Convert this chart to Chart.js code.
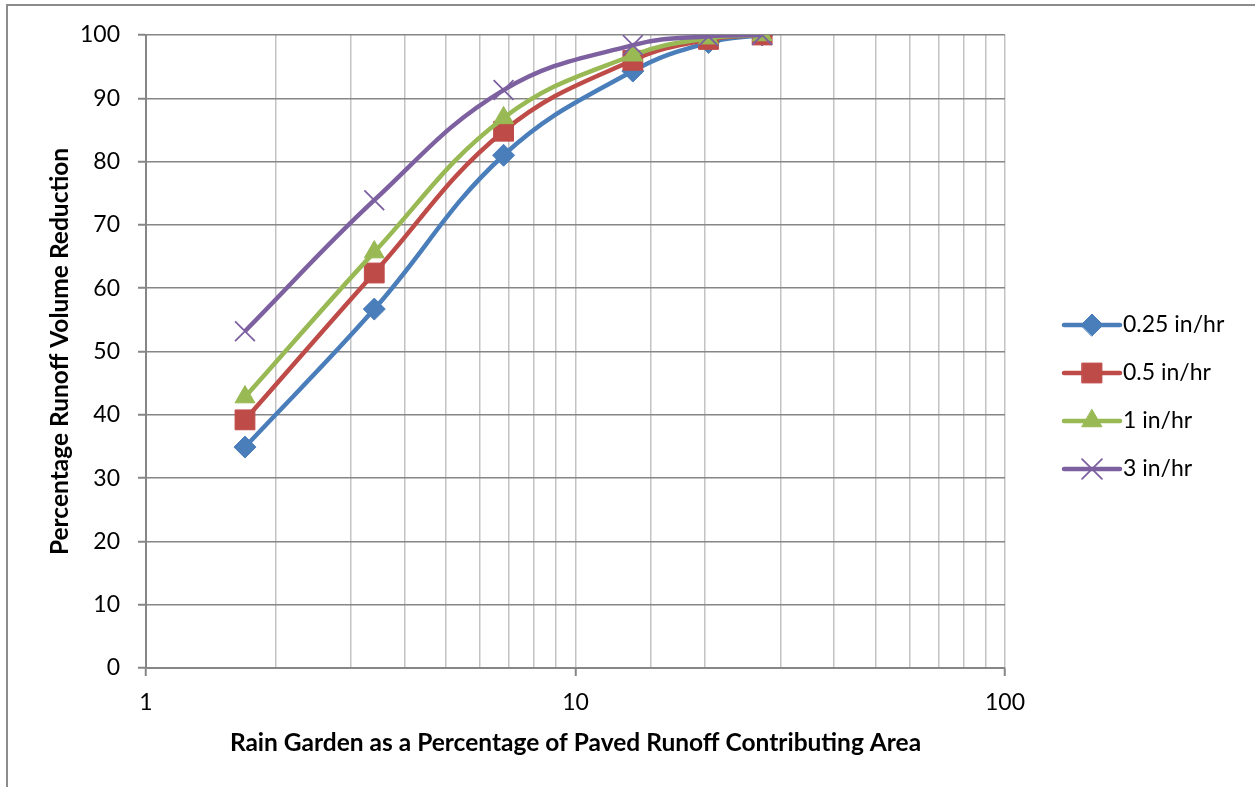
<!DOCTYPE html>
<html>
<head>
<meta charset="utf-8">
<script src="https://cdn.jsdelivr.net/npm/chart.js@4/dist/chart.umd.min.js"></script>
<style>
  html, body { margin: 0; padding: 0; background: #fff; }
  canvas { display: block; }
</style>
</head>
<body>
<canvas id="rainChart" width="1255" height="787"></canvas>
<script>
    // data
    const areaPct = [1.7, 3.4, 6.8, 13.6, 20.4, 27.2];
    const seriesNames = ['0.25 in/hr', '0.5 in/hr', '1 in/hr', '3 in/hr'];
    const red025 = [34.9, 56.7, 81.0, 94.3, 98.8, 100];
    const red05 = [39.2, 62.4, 84.8, 96.0, 99.3, 100];
    const red1 = [42.8, 65.7, 86.9, 96.8, 99.5, 100];
    const red3 = [53.2, 73.9, 91.3, 98.4, 99.8, 100];
    const xTickLabels = [1, 10, 100];

    const FONT = 'Lato, "Open Sans", sans-serif';
    const colors = ['#4a7ebb', '#be4b48', '#98b954', '#7d60a0'];
    const markers = ['rectRot', 'rect', 'triangle', 'crossRot'];
    const markerSize = [11, 14, 11.5, 14];

    function pts(vals) {
        return areaPct.map((x, i) => ({ x: x, y: vals[i] }));
    }

    const allVals = [red025, red05, red1, red3];
    const datasets = allVals.map((v, i) => ({
        label: seriesNames[i],
        data: pts(v),
        borderColor: colors[i],
        backgroundColor: colors[i],
        borderWidth: 4.5,
        pointStyle: markers[i],
        pointRadius: markerSize[i],
        pointBorderWidth: markers[i] === 'crossRot' ? 1.8 : 1,
        pointBorderColor: colors[i],
        pointBackgroundColor: colors[i],
        tension: 0.4,
        order: 3 - i   // purple on top
    }));

    // chart frame, like the excel chart border
    const framePlugin = {
        id: 'frame',
        beforeDraw(chart) {
            const ctx = chart.ctx;
            ctx.save();
            ctx.strokeStyle = '#8c8c8c';
            ctx.lineWidth = 2;
            ctx.beginPath();
            ctx.moveTo(7, chart.height);
            ctx.lineTo(7, 5);
            ctx.lineTo(chart.width, 5);
            ctx.stroke();
            ctx.restore();
        }
    };

    // legend: line + marker, then the text
    const legendPlugin = {
        id: 'sideLegend',
        afterDraw(chart) {
            const ctx = chart.ctx;
            const x0 = 1064, x1 = 1120, top = 325, step = 48;
            chart.data.datasets.forEach((ds, i) => {
                const y = top + i * step;
                ctx.save();
                ctx.strokeStyle = ds.borderColor;
                ctx.fillStyle = ds.backgroundColor;
                ctx.lineWidth = 4.5;
                ctx.lineCap = 'round';
                ctx.beginPath();
                ctx.moveTo(x0, y);
                ctx.lineTo(x1, y);
                ctx.stroke();
                ctx.lineWidth = ds.pointBorderWidth;
                Chart.helpers.drawPoint(ctx, {
                    pointStyle: ds.pointStyle,
                    radius: ds.pointRadius,
                    borderWidth: ds.pointBorderWidth,
                    rotation: 0
                }, (x0 + x1) / 2, y);
                ctx.fillStyle = '#000';
                ctx.font = '23px ' + FONT;
                ctx.textBaseline = 'middle';
                ctx.textAlign = 'left';
                ctx.fillText(ds.label, x1 + 3, y);
                ctx.restore();
            });
        }
    };

    new Chart(document.getElementById('rainChart').getContext('2d'), {
        type: 'line',
        data: { datasets: datasets },
        options: {
            responsive: false,
            animation: false,
            layout: { padding: { left: 0, right: 250, top: 35, bottom: 0 } },
            plugins: {
                legend: { display: false },
                tooltip: { enabled: false }
            },
            scales: {
                x: {
                    type: 'logarithmic',
                    min: 1,
                    max: 100,
                    afterFit(scale) { scale.height = 119; },
                    border: { color: '#868686', width: 2 },
                    grid: {
                        color: '#c3c3c3',
                        lineWidth: 1.5,
                        tickLength: 8,
                        tickColor: (c) => xTickLabels.includes(c.tick && c.tick.value) ? '#868686' : 'rgba(0,0,0,0)',
                        tickWidth: 2
                    },
                    ticks: {
                        autoSkip: false,
                        maxRotation: 0,
                        color: '#000',
                        padding: 13,
                        font: { family: FONT, size: 23 },
                        callback: (v) => xTickLabels.includes(v) ? String(v) : ''
                    },
                    title: {
                        display: true,
                        text: 'Rain Garden as a Percentage of Paved Runoff Contributing Area',
                        color: '#000',
                        font: { family: FONT, size: 24.5, weight: 'bold' },
                        padding: { top: 0, bottom: 29 }
                    }
                },
                y: {
                    min: 0,
                    max: 100,
                    afterFit(scale) { scale.width = 146; },
                    border: { color: '#868686', width: 2 },
                    grid: {
                        color: '#868686',
                        lineWidth: 1.5,
                        tickLength: 8,
                        tickColor: '#868686',
                        tickWidth: 2
                    },
                    ticks: {
                        stepSize: 10,
                        color: '#000',
                        padding: 18,
                        font: { family: FONT, size: 23 }
                    },
                    title: {
                        display: true,
                        text: 'Percentage Runoff Volume Reduction',
                        color: '#000',
                        font: { family: FONT, size: 24.5, weight: 'bold' },
                        padding: { top: 45, bottom: 0 }
                    }
                }
            }
        },
        plugins: [framePlugin, legendPlugin]
    });
</script>
</body>
</html>
